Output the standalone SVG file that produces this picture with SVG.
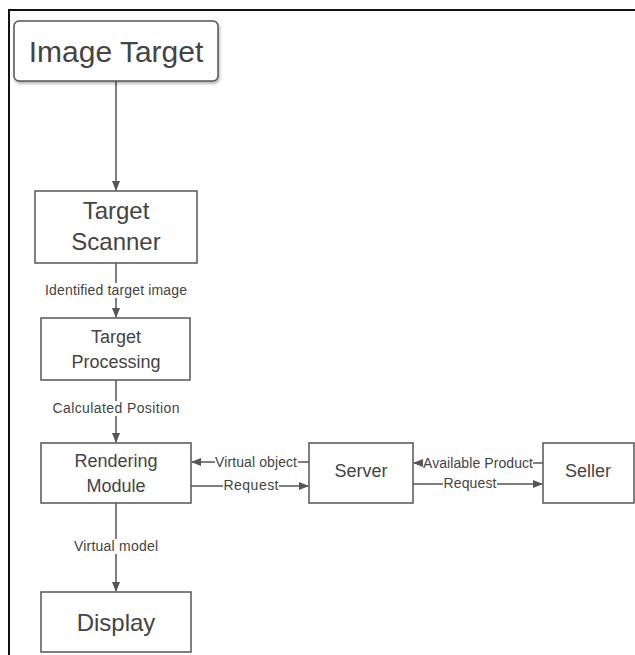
<svg xmlns="http://www.w3.org/2000/svg" width="635" height="655" viewBox="0 0 635 655">
<style>
.box{fill:#fff;stroke:#555;stroke-width:1.5}
.t{font-family:"Liberation Sans",Arial,sans-serif;fill:#444;text-anchor:middle}
.lbl{font-family:"Liberation Sans",Arial,sans-serif;fill:#444;text-anchor:middle;font-size:14px}
.c{stroke:#555;stroke-width:1.5;fill:none}
.lb{fill:#fff}
</style>
<defs>
<marker id="ah" markerWidth="10" markerHeight="8" refX="9" refY="4" orient="auto" markerUnits="userSpaceOnUse">
<path d="M0,0 L10,4 L0,8 Z" fill="#555"/>
</marker>
<filter id="sh" x="-10%" y="-10%" width="130%" height="140%">
<feDropShadow dx="1" dy="2" stdDeviation="1.5" flood-color="#000" flood-opacity="0.3"/>
</filter>
</defs>
<rect width="635" height="655" fill="#fff"/>
<path d="M9,655 L9,10 L635,10" fill="none" stroke="#111" stroke-width="2"/>
<g id="connectors">
<line class="c" x1="116" y1="81" x2="116" y2="190" marker-end="url(#ah)"/>
<line class="c" x1="116" y1="263" x2="116" y2="317" marker-end="url(#ah)"/>
<rect class="lb" x="44" y="283" width="143" height="15"/>
<text class="lbl" x="116" y="295" textLength="142">Identified target image</text>
<line class="c" x1="116" y1="380" x2="116" y2="442" marker-end="url(#ah)"/>
<rect class="lb" x="52" y="401" width="128" height="15"/>
<text class="lbl" x="116" y="413" textLength="127">Calculated Position</text>
<line class="c" x1="116" y1="503" x2="116" y2="591" marker-end="url(#ah)"/>
<rect class="lb" x="73" y="539" width="85" height="15"/>
<text class="lbl" x="116" y="551" textLength="84">Virtual model</text>
<line class="c" x1="309" y1="462" x2="192" y2="462" marker-end="url(#ah)"/>
<rect class="lb" x="215" y="455" width="83" height="14"/>
<text class="lbl" x="256" y="467" textLength="82">Virtual object</text>
<line class="c" x1="191" y1="486" x2="308" y2="486" marker-end="url(#ah)"/>
<rect class="lb" x="223" y="479" width="56" height="14"/>
<text class="lbl" x="251" y="490" textLength="55">Request</text>
<line class="c" x1="543" y1="463" x2="414" y2="463" marker-end="url(#ah)"/>
<rect class="lb" x="423" y="456" width="110" height="14"/>
<text class="lbl" x="478" y="468" textLength="110">Available Product</text>
<line class="c" x1="413" y1="484" x2="542" y2="484" marker-end="url(#ah)"/>
<rect class="lb" x="443" y="477" width="54" height="14"/>
<text class="lbl" x="470" y="488" textLength="53">Request</text>
</g>
<g id="image-target">
<rect class="box" x="14" y="21" width="204" height="60" rx="5" filter="url(#sh)" stroke-width="2"/>
<text class="t" x="116" y="62" font-size="30">Image Target</text>
</g>
<g id="target-scanner">
<rect class="box" x="35" y="191" width="162" height="72"/>
<text class="t" x="116" y="219" font-size="24">Target</text>
<text class="t" x="116" y="250" font-size="24">Scanner</text>
</g>
<g id="target-processing">
<rect class="box" x="41" y="318" width="149" height="62"/>
<text class="t" x="116" y="343" font-size="18">Target</text>
<text class="t" x="116" y="368" font-size="18">Processing</text>
</g>
<g id="rendering-module">
<rect class="box" x="41" y="443" width="150" height="60"/>
<text class="t" x="116" y="467" font-size="18">Rendering</text>
<text class="t" x="116" y="492" font-size="18">Module</text>
</g>
<g id="server">
<rect class="box" x="309" y="443" width="104" height="60"/>
<text class="t" x="361" y="477" font-size="18">Server</text>
</g>
<g id="seller">
<rect class="box" x="543" y="443" width="91" height="60"/>
<text class="t" x="588" y="477" font-size="18">Seller</text>
</g>
<g id="display">
<rect class="box" x="41" y="592" width="150" height="60"/>
<text class="t" x="116" y="631" font-size="24">Display</text>
</g>
</svg>
